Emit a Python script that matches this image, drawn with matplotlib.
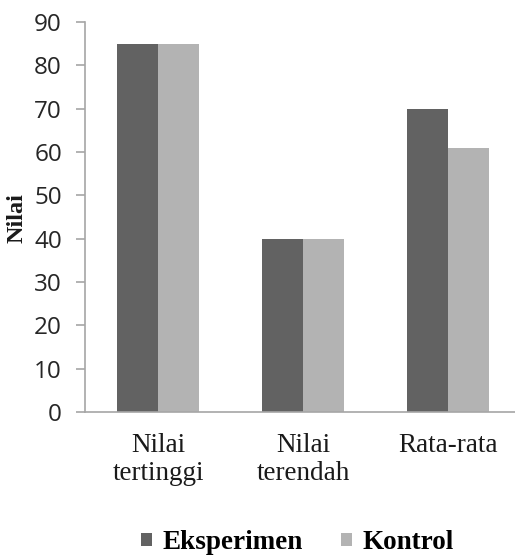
import numpy as np
import matplotlib
matplotlib.use("Agg")
import matplotlib.pyplot as plt

kategori = ["Nilai\ntertinggi", "Nilai\nterendah", "Rata-rata"]
eksperimen = [85, 40, 70]
kontrol = [85, 40, 61]
yticks = [0, 10, 20, 30, 40, 50, 60, 70, 80, 90]

warna_eks = "#626262"
warna_kon = "#b3b3b3"
garis = "#a6a6a6"

fig = plt.figure(figsize=(5.15, 5.55), dpi=100)
ax = fig.add_axes([0.166, 0.2577, 0.845, 0.7027])

x = np.arange(len(kategori))
lebar = 0.283
ax.bar(x - lebar / 2, eksperimen, lebar, color=warna_eks, label="Eksperimen")
ax.bar(x + lebar / 2, kontrol, lebar, color=warna_kon, label="Kontrol")

ax.set_xlim(-0.5, len(kategori) - 0.5)
ax.set_ylim(0, 90)
ax.set_yticks(yticks)
ax.set_yticklabels([str(v) for v in yticks], fontfamily="Open Sans",
                   fontsize=17.5, color="#262626")
ax.set_xticks(x)
ax.set_xticklabels(kategori, fontfamily="Liberation Serif", fontsize=19.5,
                   color="#1a1a1a", linespacing=1.15)
ax.tick_params(axis="x", length=0, pad=15)
ax.tick_params(axis="y", length=6.5, width=1.2, color=garis, pad=10.5)

for s in ["top", "right"]:
    ax.spines[s].set_visible(False)
for s in ["left", "bottom"]:
    ax.spines[s].set_color(garis)
    ax.spines[s].set_linewidth(1.2)

# judul sumbu y
fig.text(17 / 515, 1 - 218 / 555, "Nilai", rotation=90, ha="center", va="center",
         fontfamily="Liberation Serif", fontweight="bold", fontsize=17.5,
         color="#1a1a1a")

leg = fig.legend(loc="center", bbox_to_anchor=(0.578, 0.022), ncol=2, frameon=False,
                 prop={"family": "Liberation Serif", "weight": "bold", "size": 19.5},
                 handlelength=0.4, handleheight=0.4, handletextpad=0.4,
                 columnspacing=1.4)

fig.savefig("out.png", dpi=100)
